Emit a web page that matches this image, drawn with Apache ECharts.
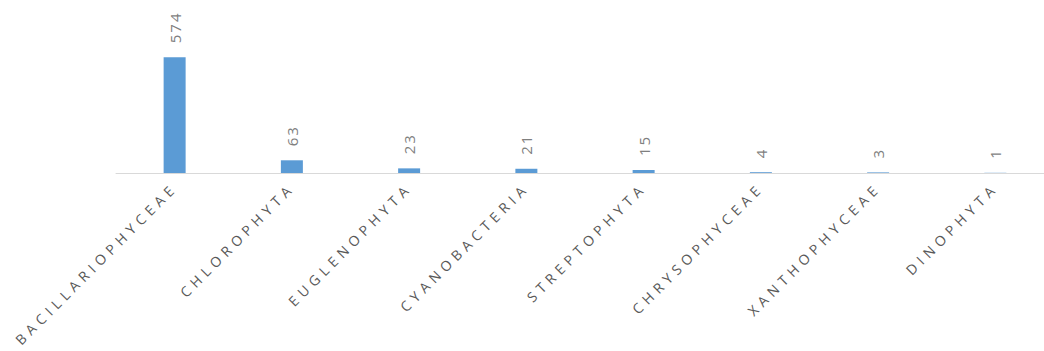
<!DOCTYPE html>
<html>
<head>
<meta charset="utf-8">
<script src="https://cdn.jsdelivr.net/npm/echarts@6/dist/echarts.min.js"></script>
<style>
  html, body { margin: 0; padding: 0; background: #ffffff; overflow: hidden; }
  /* the plot continues a little past the right edge of the window */
  #chart { width: 1054px; height: 351px; }
</style>
</head>
<body>
<div id="chart"></div>
<script>
// Species count per algal group
const categories = ['BACILLARIOPHYCEAE', 'CHLOROPHYTA', 'EUGLENOPHYTA', 'CYANOBACTERIA',
  'STREPTOPHYTA', 'CHRYSOPHYCEAE', 'XANTHOPHYCEAE', 'DINOPHYTA'];
const counts = [574, 63, 23, 21, 15, 4, 3, 1];

const chart = echarts.init(document.getElementById('chart'), null, { renderer: 'svg' });

chart.setOption({
  animation: false,
  grid: { left: 116, right: 0, top: 52, bottom: 178 },
  xAxis: {
    type: 'category',
    data: categories,
    axisLine: { lineStyle: { color: '#d9d9d9', width: 1 } },
    axisTick: { show: false },
    axisLabel: {
      interval: 0,
      rotate: 45,
      margin: 12,
      color: '#595959',
      fontFamily: 'Open Sans',
      fontSize: 14
    }
  },
  yAxis: {
    type: 'value',
    min: 0,
    max: 600,
    show: false,
    splitLine: { show: false }
  },
  series: [{
    type: 'bar',
    data: counts,
    barWidth: 22,
    itemStyle: { color: '#5b9bd5' },
    label: {
      show: true,
      position: 'top',
      rotate: 90,
      align: 'left',
      verticalAlign: 'middle',
      distance: 14,
      color: '#7f7f7f',
      fontFamily: 'Open Sans',
      fontSize: 15
    }
  }]
});

// Widen the tracking of the label text: category names are spaced out more than the numbers
function spaceLabels() {
  document.querySelectorAll('#chart text').forEach(function (t) {
    const isNumber = /^\d+$/.test(t.textContent.trim());
    t.style.letterSpacing = isNumber ? '2px' : '5px';
  });
}
spaceLabels();
chart.on('finished', spaceLabels);
</script>
</body>
</html>
